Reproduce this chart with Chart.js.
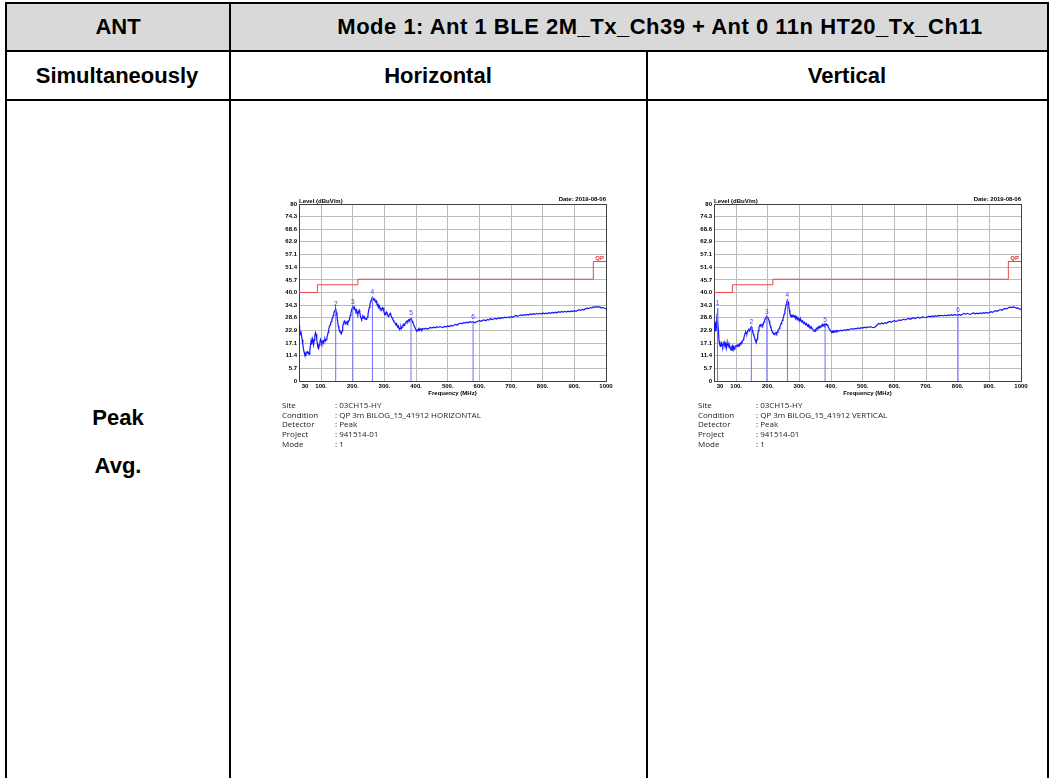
<!DOCTYPE html>
<html>
<head>
<meta charset="utf-8">
<title>Radiated emission – Mode 1</title>
<script src="https://cdn.jsdelivr.net/npm/chart.js@4/dist/chart.umd.min.js"></script>
<style>
  body { margin: 0; background: #fff; }
  #page { position: relative; width: 1051px; height: 778px; overflow: hidden;
          font-family: "Liberation Sans", Arial, sans-serif; background: #fff; }
  .ln { position: absolute; background: #000; }
  .fill { position: absolute; background: #d9d9d9; }
  .t { position: absolute; transform: translate(-50%, -50%); font-weight: bold;
       font-size: 22px; line-height: 1; white-space: nowrap; color: #000; }
  .title { letter-spacing: 0.5px; }
  canvas { position: absolute; }
  .info { position: absolute; font-family: "Open Sans", sans-serif; font-size: 8px;
          color: #222; line-height: 9.7px; white-space: nowrap; }
</style>
</head>
<body>
<div id="page">
  <div class="fill" style="left:7px;top:4px;width:1040px;height:46px;"></div>
  <div class="ln" style="left:5px;top:2px;width:1044px;height:2px;"></div>
  <div class="ln" style="left:5px;top:50px;width:1044px;height:2px;"></div>
  <div class="ln" style="left:5px;top:99px;width:1044px;height:2px;"></div>
  <div class="ln" style="left:5px;top:2px;width:2px;height:800px;"></div>
  <div class="ln" style="left:229px;top:2px;width:2px;height:800px;"></div>
  <div class="ln" style="left:646px;top:50px;width:2px;height:800px;"></div>
  <div class="ln" style="left:1047px;top:2px;width:2px;height:800px;"></div>

  <div class="t" style="left:118px;top:27px;">ANT</div>
  <div class="t title" style="left:660px;top:27px;">Mode 1: Ant 1 BLE 2M_Tx_Ch39 + Ant 0 11n HT20_Tx_Ch11</div>
  <div class="t" style="left:117px;top:76px;">Simultaneously</div>
  <div class="t" style="left:438px;top:76px;">Horizontal</div>
  <div class="t" style="left:847px;top:76px;">Vertical</div>
  <div class="t" style="left:118px;top:418px;">Peak</div>
  <div class="t" style="left:118px;top:466px;">Avg.</div>

  <canvas id="chartH" width="370" height="215" style="left:255px;top:190px;"></canvas>
  <canvas id="chartV" width="370" height="215" style="left:670px;top:190px;"></canvas>
  <div id="infoH"></div>
  <div id="infoV"></div>
</div>

<script>
// Axis ticks
const yTickValues = [0, 5.7, 11.4, 17.1, 22.9, 28.6, 34.3, 40.0, 45.7, 51.4, 57.1, 62.9, 68.6, 74.3, 80];
const xTickValues = [30, 100, 200, 300, 400, 500, 600, 700, 800, 900, 1000];
const xTickLabels = ['30', '100.', '200.', '300.', '400.', '500.', '600.', '700.', '800.', '900.', '1000'];

// QP limit (dBuV/m), stepped at the band edges
const limitFreq  = [30, 88, 216, 960, 1000];
const limitLevel = [40, 43.5, 46, 54, 54];

// Horizontal polarisation trace [MHz, dBuV/m]
const hTrace = [
  [30,25.2],[32,23.5],[34,21.0],[36,22.4],[38,20.5],[40,18.6],[42,16.8],[44,14.5],[46,13.2],[48,12.0],
  [50,11.6],[52,12.4],[54,13.0],[56,12.6],[58,13.1],[60,12.8],[62,12.0],[64,13.5],[66,15.8],[68,18.0],
  [70,16.5],[72,19.2],[74,18.1],[76,16.4],[78,18.5],[80,20.4],[82,21.9],[84,21.2],[86,19.0],[88,16.8],
  [90,15.0],[92,14.6],[94,16.2],[96,17.5],[98,18.8],[100,18.0],[102,16.9],[104,17.4],[106,18.2],[108,17.6],
  [110,18.4],[112,19.0],[114,18.1],[116,18.7],[118,19.6],[120,20.5],[122,22.0],[124,23.4],[126,24.6],[128,25.3],
  [130,26.2],[132,26.8],[134,27.9],[136,28.4],[138,29.6],[140,30.8],[142,31.5],[144,32.0],[146,32.4],[148,31.0],
  [150,29.2],[152,27.1],[154,25.0],[156,23.8],[158,23.0],[160,22.4],[162,21.8],[164,21.4],[166,22.6],[168,24.5],
  [170,25.8],[172,26.9],[174,27.2],[176,26.5],[178,26.0],[180,26.3],[182,26.9],[184,26.2],[186,26.8],[188,27.5],
  [190,28.4],[192,29.6],[194,30.8],[196,31.9],[198,32.8],[200,33.6],[202,33.2],[204,32.5],[206,33.0],[208,32.2],
  [210,31.4],[212,32.1],[214,31.0],[216,30.2],[218,31.2],[220,32.0],[222,30.9],[224,29.5],[226,28.4],[228,27.9],
  [230,28.6],[232,29.4],[234,29.0],[236,28.2],[238,28.6],[240,28.0],[242,27.8],[244,28.4],[246,28.9],[248,30.2],
  [250,31.8],[252,33.2],[254,34.5],[256,35.6],[258,36.4],[260,37.2],[262,37.8],[264,37.3],[266,36.9],[268,37.1],
  [270,36.4],[272,35.8],[274,36.2],[276,35.0],[278,34.2],[280,34.6],[282,33.5],[284,33.9],[286,33.1],[288,32.4],
  [290,32.0],[292,32.6],[294,33.2],[296,32.9],[298,31.6],[300,30.4],[302,30.0],[304,30.8],[306,31.2],[308,30.6],
  [310,29.8],[312,29.2],[314,29.6],[316,30.2],[318,30.6],[320,29.9],[322,29.0],[324,28.6],[326,28.0],[328,27.4],
  [330,26.9],[332,26.5],[334,26.2],[336,25.6],[338,25.9],[340,25.2],[342,24.6],[344,24.9],[346,24.0],[348,23.5],
  [350,23.8],[352,24.6],[354,23.7],[356,24.4],[358,25.2],[360,25.6],[362,25.1],[364,25.8],[366,26.2],[368,26.5],
  [370,26.9],[372,27.2],[374,26.8],[376,27.5],[378,27.8],[380,27.4],[382,27.9],[384,28.3],[386,27.6],[388,27.0],
  [390,26.4],[392,25.6],[394,24.8],[396,24.2],[398,23.6],[400,23.0],[402,22.7],[404,23.1],[406,22.8],[408,23.4],
  [410,23.0],[412,23.6],[414,23.2],[416,23.5],[418,23.1],[420,23.7],[425,23.4],[430,23.9],[435,23.5],[440,23.8],
  [445,24.2],[450,23.9],[455,24.3],[460,24.0],[465,24.5],[470,24.2],[475,24.6],[480,24.4],[485,24.1],[490,24.7],
  [495,24.5],[500,24.9],[505,24.6],[510,25.1],[515,24.8],[520,25.3],[525,25.6],[530,25.2],[535,25.9],[540,26.2],
  [545,25.9],[550,26.4],[555,26.2],[560,26.6],[565,26.3],[570,26.8],[575,26.5],[580,26.8],[585,26.3],[590,26.7],
  [595,27.0],[600,27.3],[605,27.0],[610,27.4],[615,27.6],[620,27.2],[625,27.8],[630,27.5],[635,28.2],[640,27.8],
  [645,28.0],[650,28.3],[655,28.0],[660,28.5],[665,28.2],[670,28.6],[675,28.4],[680,28.8],[685,28.5],[690,28.9],
  [695,28.7],[700,29.1],[705,28.8],[710,29.3],[715,29.6],[720,29.2],[725,29.5],[730,29.9],[735,29.6],[740,30.0],
  [745,29.7],[750,30.1],[755,29.8],[760,30.3],[765,30.0],[770,30.4],[775,30.1],[780,30.5],[785,30.2],[790,30.6],
  [795,30.3],[800,30.8],[805,30.4],[810,30.7],[815,30.5],[820,30.9],[825,30.6],[830,31.0],[835,30.7],[840,31.1],
  [845,30.8],[850,31.3],[855,31.0],[860,31.4],[865,31.1],[870,31.5],[875,31.2],[880,31.6],[885,31.3],[890,31.7],
  [895,31.4],[900,31.8],[905,31.5],[910,31.9],[915,32.2],[920,31.9],[925,32.4],[930,32.2],[935,32.6],[940,32.9],
  [945,32.7],[950,33.2],[955,33.0],[960,33.5],[965,33.3],[970,33.6],[975,33.4],[980,33.5],[985,33.1],[990,33.2],
  [995,32.9],[1000,32.6]
];

// Vertical polarisation trace [MHz, dBuV/m]
const vTrace = [
  [30,23.0],[32,25.5],[34,26.2],[36,22.4],[38,24.8],[40,30.5],[41,32.9],[42,28.0],[44,22.5],[46,18.0],
  [48,16.4],[50,15.6],[52,16.8],[54,17.4],[56,16.2],[58,15.5],[60,16.9],[62,17.6],[64,16.3],[66,15.8],
  [68,17.0],[70,15.2],[72,16.4],[74,17.2],[76,16.0],[78,15.1],[80,15.8],[82,14.6],[84,14.0],[86,15.3],
  [88,15.9],[90,14.8],[92,15.6],[94,14.4],[96,15.2],[98,15.8],[100,15.5],[102,15.9],[104,16.3],[106,15.7],
  [108,16.2],[110,16.8],[112,16.5],[114,17.1],[116,17.6],[118,17.3],[120,18.0],[122,18.6],[124,19.3],[126,20.4],
  [128,21.5],[130,22.2],[132,21.6],[134,21.3],[136,22.4],[138,22.9],[140,23.1],[142,22.6],[144,23.6],[146,24.2],
  [148,24.5],[150,23.4],[152,22.6],[154,21.4],[156,20.5],[158,19.8],[160,18.6],[162,17.8],[164,17.5],[166,18.9],
  [168,20.8],[170,22.6],[172,24.1],[174,25.0],[176,25.4],[178,24.9],[180,25.2],[182,25.6],[184,25.1],[186,25.9],
  [188,26.7],[190,27.5],[192,28.2],[194,28.7],[196,29.0],[197,29.1],[198,28.9],[200,28.6],[202,28.1],[204,27.2],
  [206,26.1],[208,25.0],[210,24.0],[212,23.1],[214,22.4],[216,21.8],[218,21.4],[220,21.6],[222,21.2],[224,21.5],
  [226,21.9],[228,21.4],[230,22.0],[232,22.6],[234,23.1],[236,23.8],[238,24.5],[240,25.2],[242,25.9],[244,26.6],
  [246,27.4],[248,28.3],[250,29.2],[252,30.4],[254,31.8],[256,33.2],[258,34.6],[260,35.8],[262,36.6],[264,35.8],
  [266,34.2],[268,32.0],[270,30.3],[272,29.4],[274,29.0],[276,29.6],[278,29.2],[280,29.8],[282,29.3],[284,28.8],
  [286,29.4],[288,28.6],[290,29.1],[292,28.4],[294,28.0],[296,28.5],[298,27.7],[300,27.9],[302,27.3],[304,27.8],
  [306,27.0],[308,26.8],[310,27.2],[312,26.5],[314,26.2],[316,26.6],[318,25.9],[320,25.6],[322,26.0],[324,25.3],
  [326,25.0],[328,25.4],[330,24.7],[332,24.9],[334,24.3],[336,24.0],[338,24.4],[340,23.7],[342,23.3],[344,22.8],
  [346,22.5],[348,22.9],[350,23.3],[352,23.0],[354,23.6],[356,24.1],[358,23.8],[360,24.4],[362,24.0],[364,24.6],
  [366,24.3],[368,24.9],[370,25.2],[372,24.8],[374,25.5],[376,25.1],[378,25.6],[380,25.0],[381,25.3],[382,25.6],
  [384,25.2],[386,25.7],[388,25.4],[390,24.8],[392,24.2],[394,23.6],[396,23.1],[398,22.7],[400,22.4],[402,22.1],
  [404,22.5],[406,22.0],[408,22.4],[410,22.2],[412,22.6],[414,22.3],[416,22.7],[418,22.4],[420,22.8],[425,22.6],
  [430,23.0],[435,22.7],[440,23.1],[445,22.9],[450,23.3],[455,23.0],[460,23.4],[465,23.7],[470,23.4],[475,23.8],
  [480,23.6],[485,24.0],[490,23.7],[495,24.1],[500,23.9],[505,24.3],[510,24.0],[515,24.4],[520,24.2],[525,24.6],
  [530,24.3],[535,24.1],[540,24.5],[545,25.2],[550,26.0],[555,25.7],[560,26.2],[565,25.9],[570,26.4],[575,26.1],
  [580,26.6],[585,26.9],[590,26.5],[595,27.0],[600,27.3],[605,26.9],[610,27.2],[615,27.6],[620,27.3],[625,27.7],
  [630,27.9],[635,27.6],[640,28.0],[645,28.3],[650,27.9],[655,28.3],[660,28.6],[665,28.2],[670,28.5],[675,28.8],
  [680,28.4],[685,28.7],[690,29.0],[695,28.8],[700,28.6],[705,29.0],[710,29.3],[715,29.0],[720,29.4],[725,29.1],
  [730,29.5],[735,29.2],[740,29.6],[745,29.4],[750,29.7],[755,29.4],[760,29.8],[765,29.5],[770,29.9],[775,29.6],
  [780,30.0],[785,29.7],[790,30.1],[795,29.8],[801,29.8],[805,30.1],[810,29.7],[815,30.2],[820,30.5],[825,30.2],
  [830,30.6],[835,30.3],[840,30.1],[845,30.5],[850,30.8],[855,30.4],[860,30.7],[865,30.4],[870,30.8],[875,30.5],
  [880,30.9],[885,30.6],[890,31.0],[895,30.7],[900,30.9],[905,31.3],[910,31.0],[915,31.5],[920,31.8],[925,31.5],
  [930,32.0],[935,32.3],[940,32.0],[945,32.5],[950,32.8],[955,32.6],[960,33.1],[965,33.4],[970,33.2],[975,33.5],
  [980,33.3],[985,32.9],[990,33.0],[995,32.6],[1000,32.4]
];

// Marked peaks [MHz, dBuV/m, marker no.]
const hMarks = [[146, 32.4, '2'], [200, 33.6, '3'], [262, 37.8, '4'], [384, 28.3, '5'], [580, 26.8, '6']];
const vMarks = [[41, 32.9, '1'], [148, 24.5, '2'], [197, 29.1, '3'], [262, 36.6, '4'], [381, 25.3, '5'], [801, 29.8, '6']];

// Report header lines under each plot
const infoLabels = ['Site', 'Condition', 'Detector', 'Project', 'Mode'];
const hInfo = [': 03CH15-HY', ': QP 3m BILOG_15_41912 HORIZONTAL', ': Peak', ': 941514-01', ': 1'];
const vInfo = [': 03CH15-HY', ': QP 3m BILOG_15_41912 VERTICAL', ': Peak', ': 941514-01', ': 1'];
const reportDate = 'Date: 2019-08-06';

const FRAME = '#404040';
const GRID = '#bcbcbc';
const TXT = '"Liberation Sans", Arial, sans-serif';

function yTickText(v) {
  return (v === 0 || v === 80) ? String(v) : v.toFixed(1);
}

function textPlugin(marks) {
  return {
    id: 'plotText',
    afterDraw(chart) {
      const ctx = chart.ctx;
      const xs = chart.scales.x, ys = chart.scales.y;
      const a = chart.chartArea;
      ctx.save();
      ctx.font = 'bold 6px ' + TXT;
      ctx.fillStyle = '#000';
      ctx.textBaseline = 'middle';
      // frequency tick labels
      xTickValues.forEach((v, i) => {
        let x = xs.getPixelForValue(v);
        ctx.textAlign = 'center';
        if (i === 0) x += 6;
        ctx.fillText(xTickLabels[i], x, a.bottom + 5.5);
      });
      ctx.textAlign = 'center';
      ctx.fillText('Frequency (MHz)', (a.left + a.right) / 2, a.bottom + 12.5);
      ctx.textAlign = 'left';
      ctx.fillText('Level (dBuV/m)', a.left, a.top - 3);
      ctx.textAlign = 'right';
      ctx.fillText(reportDate, a.right, a.top - 4.5);
      // limit tag
      ctx.fillStyle = '#e03030';
      ctx.fillText('QP', a.right - 2, ys.getPixelForValue(limitLevel[limitLevel.length - 1]) - 3.5);
      // marker numbers
      ctx.font = '6.5px ' + TXT;
      ctx.fillStyle = '#3a3aff';
      ctx.textAlign = 'center';
      ctx.textBaseline = 'bottom';
      marks.forEach(m => {
        ctx.fillText(m[2], xs.getPixelForValue(m[0]), ys.getPixelForValue(m[1]) - 1.5);
      });
      ctx.restore();
    }
  };
}

function makeChart(id, trace, marks) {
  const stems = [];
  marks.forEach(m => {
    stems.push({x: m[0], y: 0}, {x: m[0], y: m[1]}, {x: m[0], y: null});
  });
  return new Chart(document.getElementById(id), {
    type: 'line',
    data: {
      datasets: [
        { data: limitFreq.map((f, i) => ({x: f, y: limitLevel[i]})), borderColor: '#e64848',
          borderWidth: 1, stepped: 'before', pointRadius: 0, order: 3 },
        { data: trace.map(p => ({x: p[0], y: p[1]})), borderColor: '#1414ff',
          borderWidth: 1.2, pointRadius: 0, tension: 0, order: 2 },
        { data: stems, borderColor: '#7070ff', borderWidth: 1, pointRadius: 0,
          spanGaps: false, order: 1 }
      ]
    },
    options: {
      responsive: false,
      animation: false,
      devicePixelRatio: 1,
      layout: { padding: { left: 0, top: 14, right: 19, bottom: 0 } },
      plugins: { legend: { display: false }, tooltip: { enabled: false } },
      scales: {
        x: {
          type: 'linear', min: 30, max: 1000,
          afterBuildTicks: s => { s.ticks = xTickValues.map(v => ({value: v})); },
          afterFit: s => { s.height = 24; },
          ticks: { display: false },
          grid: { color: c => (c.tick && c.tick.value === 1000) ? FRAME : GRID, drawTicks: false },
          border: { color: FRAME, width: 1 }
        },
        y: {
          min: 0, max: 80,
          afterBuildTicks: s => { s.ticks = yTickValues.map(v => ({value: v})); },
          afterFit: s => { s.width = 44; },
          ticks: { autoSkip: false, padding: 2, color: '#000',
                   font: { family: TXT, size: 6, weight: 'bold' },
                   callback: v => yTickText(v) },
          grid: { color: c => (c.tick && c.tick.value === 80) ? FRAME : GRID, drawTicks: false },
          border: { color: FRAME, width: 1 }
        }
      }
    },
    plugins: [textPlugin(marks)]
  });
}

function writeInfo(elId, left, valueLeft, values) {
  const box = document.getElementById(elId);
  infoLabels.forEach((lab, i) => {
    const top = 400 + i * 9.7;
    const l = document.createElement('div');
    l.className = 'info';
    l.style.left = left + 'px'; l.style.top = top + 'px';
    l.textContent = lab;
    const v = document.createElement('div');
    v.className = 'info';
    v.style.left = valueLeft + 'px'; v.style.top = top + 'px';
    v.textContent = values[i];
    box.appendChild(l); box.appendChild(v);
  });
}

makeChart('chartH', hTrace, hMarks);
makeChart('chartV', vTrace, vMarks);
writeInfo('infoH', 282, 335, hInfo);
writeInfo('infoV', 698, 756, vInfo);
</script>
</body>
</html>
